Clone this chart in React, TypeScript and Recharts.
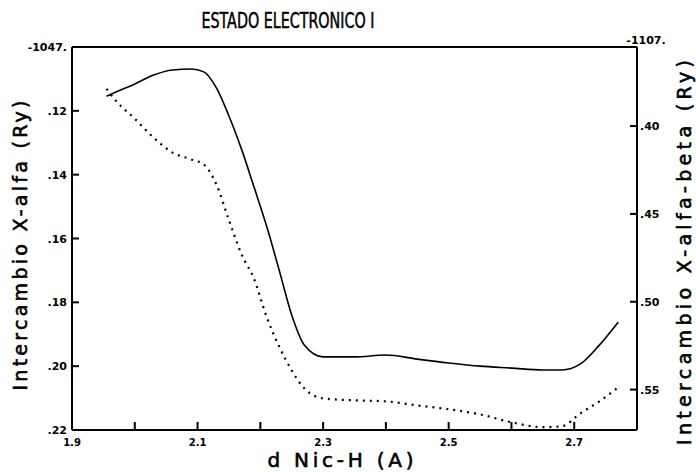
import { LineChart, Line, XAxis, YAxis, ReferenceLine, Label } from 'recharts'

// distance Ni(c)-H, Angstrom
const distances = [
  1.955, 1.97, 2.0, 2.03, 2.06, 2.09, 2.11, 2.13, 2.15, 2.17, 2.19, 2.21, 2.23, 2.25,
  2.27, 2.3, 2.35, 2.4, 2.45, 2.5, 2.55, 2.6, 2.65, 2.68, 2.71, 2.74, 2.77,
]

// X-alfa exchange energy (Ry), left axis
const xAlfa = [
  -1047.1154, -1047.1141, -1047.1116, -1047.1088, -1047.1072, -1047.1069, -1047.1078,
  -1047.1128, -1047.1216, -1047.132, -1047.1439, -1047.1561, -1047.1699, -1047.184,
  -1047.1934, -1047.1971, -1047.1971, -1047.1965, -1047.1978, -1047.199, -1047.2,
  -1047.2006, -1047.2012, -1047.2012, -1047.1993, -1047.1934, -1047.1862,
]

// X-alfa-beta exchange energy (Ry), right axis
const xAlfaBeta = [
  -1107.3788, -1107.3856, -1107.3958, -1107.4066, -1107.4151, -1107.419, -1107.4219,
  -1107.4332, -1107.4536, -1107.4729, -1107.487, -1107.5086, -1107.5255, -1107.5391,
  -1107.5493, -1107.555, -1107.5561, -1107.5567, -1107.559, -1107.5612, -1107.5641,
  -1107.5686, -1107.5714, -1107.5709, -1107.5635, -1107.5567, -1107.5488,
]

const distanceTicks = [1.9, 2.0, 2.1, 2.2, 2.3, 2.4, 2.5, 2.6, 2.7, 2.8]
const alfaTicks = [-1047.1, -1047.12, -1047.14, -1047.16, -1047.18, -1047.2, -1047.22]
const alfaBetaTicks = [-1107.355, -1107.4, -1107.45, -1107.5, -1107.55]

const tickFont = { fontFamily: 'DejaVu Sans', fontSize: 11, fontWeight: 700, fill: '#000' }
// plotter lettering is heavier than the regular face, thicken it with a thin outline
const titleFont = { fontFamily: 'DejaVu Sans', fontSize: 19, fill: '#000', stroke: '#000', strokeWidth: 0.6 }
const axisStroke = { stroke: '#000', strokeWidth: 2 }

// ticks point into the plot; the axis line sits tickMargin + tickSize away from (x, y)
function DistanceTick({ x, y, payload }: any) {
  const v = payload.value
  const axisY = y - 9
  const labelled = Math.round(v * 10) % 2 === 1
  return (
    <g>
      <path d={`M${x},${axisY}V${axisY - 8}`} stroke="#000" strokeWidth={2} fill="none" />
      {labelled && (
        <text x={x} y={y} dy="0.71em" textAnchor="middle" {...tickFont} fontSize={10}>
          {v.toFixed(1)}
        </text>
      )}
    </g>
  )
}

function AlfaTick({ x, y, payload, index }: any) {
  const v = payload.value
  const axisX = x + 5
  const txt = index === 0 ? '-1047.' : '.' + Math.round((-v - 1047) * 100)
  return (
    <g>
      {index > 0 && <path d={`M${axisX},${y}H${axisX + 7}`} stroke="#000" strokeWidth={2} fill="none" />}
      <text x={x} y={y} dy={4} textAnchor="end" {...tickFont}>
        {txt}
      </text>
    </g>
  )
}

function AlfaBetaTick({ x, y, payload, index }: any) {
  const v = payload.value
  const axisX = x - 3
  if (index === 0) {
    // header value sits centred over the top of the axis
    return (
      <text x={axisX + 9} y={y - 3} textAnchor="middle" {...tickFont}>
        -1107.
      </text>
    )
  }
  return (
    <g>
      <path d={`M${axisX},${y}H${axisX - 7}`} stroke="#000" strokeWidth={2} fill="none" />
      <text x={x} y={y} dy={4} textAnchor="start" {...tickFont}>
        {'.' + Math.round((-v - 1107) * 100)}
      </text>
    </g>
  )
}

function LeftTitle({ viewBox }: any) {
  const x = viewBox.x + 27
  const y = viewBox.y + viewBox.height / 2 + 7
  return (
    <text x={x} y={y} transform={`rotate(-90 ${x} ${y})`} textAnchor="middle" textLength={290} {...titleFont}>
      Intercambio X-alfa (Ry)
    </text>
  )
}

function RightTitle({ viewBox }: any) {
  const x = viewBox.x + 54
  const y = viewBox.y + viewBox.height / 2 + 14
  return (
    <text x={x} y={y} transform={`rotate(-90 ${x} ${y})`} textAnchor="middle" textLength={385} {...titleFont}>
      Intercambio X-alfa-beta (Ry)
    </text>
  )
}

function BottomTitle({ viewBox }: any) {
  const x = viewBox.x + viewBox.width / 2 - 14
  const y = viewBox.y + 37
  return (
    <text x={x} y={y} textAnchor="middle" textLength={146} {...titleFont} fontSize={20}>
      d Nic-H (A)
    </text>
  )
}

export default function App() {
  const data = distances.map((d, i) => ({ d, alfa: xAlfa[i], alfaBeta: xAlfaBeta[i] }))

  return (
    <div style={{ position: 'absolute', left: 0, top: 0, width: 696, height: 472, background: '#fff' }}>
      <svg width={696} height={40} style={{ position: 'absolute', left: 0, top: 0 }}>
        <text
          x={288}
          y={28}
          textAnchor="middle"
          textLength={173}
          lengthAdjust="spacingAndGlyphs"
          fontFamily="DejaVu Sans Condensed, DejaVu Sans"
          fontSize={22}
          fill="#000"
          stroke="#000"
          strokeWidth={0.5}
        >
          ESTADO ELECTRONICO I
        </text>
      </svg>
      <LineChart width={696} height={472} data={data} margin={{ top: 47, right: 0, bottom: 0, left: 0 }}>
        <XAxis
          dataKey="d"
          type="number"
          domain={[1.9, 2.8]}
          ticks={distanceTicks}
          interval={0}
          height={42}
          axisLine={axisStroke}
          tickLine={false}
          tickSize={-7}
          tickMargin={16}
          tick={<DistanceTick />}
        >
          <Label content={<BottomTitle />} />
        </XAxis>
        <YAxis
          yAxisId="left"
          orientation="left"
          type="number"
          domain={[-1047.22, -1047.1]}
          ticks={alfaTicks}
          interval={0}
          width={72}
          axisLine={axisStroke}
          tickLine={false}
          tickSize={-6}
          tickMargin={11}
          tick={<AlfaTick />}
        >
          <Label content={<LeftTitle />} />
        </YAxis>
        <YAxis
          yAxisId="right"
          orientation="right"
          type="number"
          domain={[-1107.573, -1107.355]}
          ticks={alfaBetaTicks}
          interval={0}
          width={59}
          axisLine={axisStroke}
          tickLine={false}
          tickSize={-6}
          tickMargin={9}
          tick={<AlfaBetaTick />}
        >
          <Label content={<RightTitle />} />
        </YAxis>
        <ReferenceLine yAxisId="left" y={-1047.1} stroke="#000" strokeWidth={2} />
        <Line
          yAxisId="left"
          type="monotone"
          dataKey="alfa"
          stroke="#000"
          strokeWidth={1.6}
          dot={false}
          isAnimationActive={false}
        />
        <Line
          yAxisId="right"
          type="monotone"
          dataKey="alfaBeta"
          stroke="#000"
          strokeWidth={2.2}
          strokeDasharray="2 5"
          dot={false}
          isAnimationActive={false}
        />
      </LineChart>
    </div>
  )
}
